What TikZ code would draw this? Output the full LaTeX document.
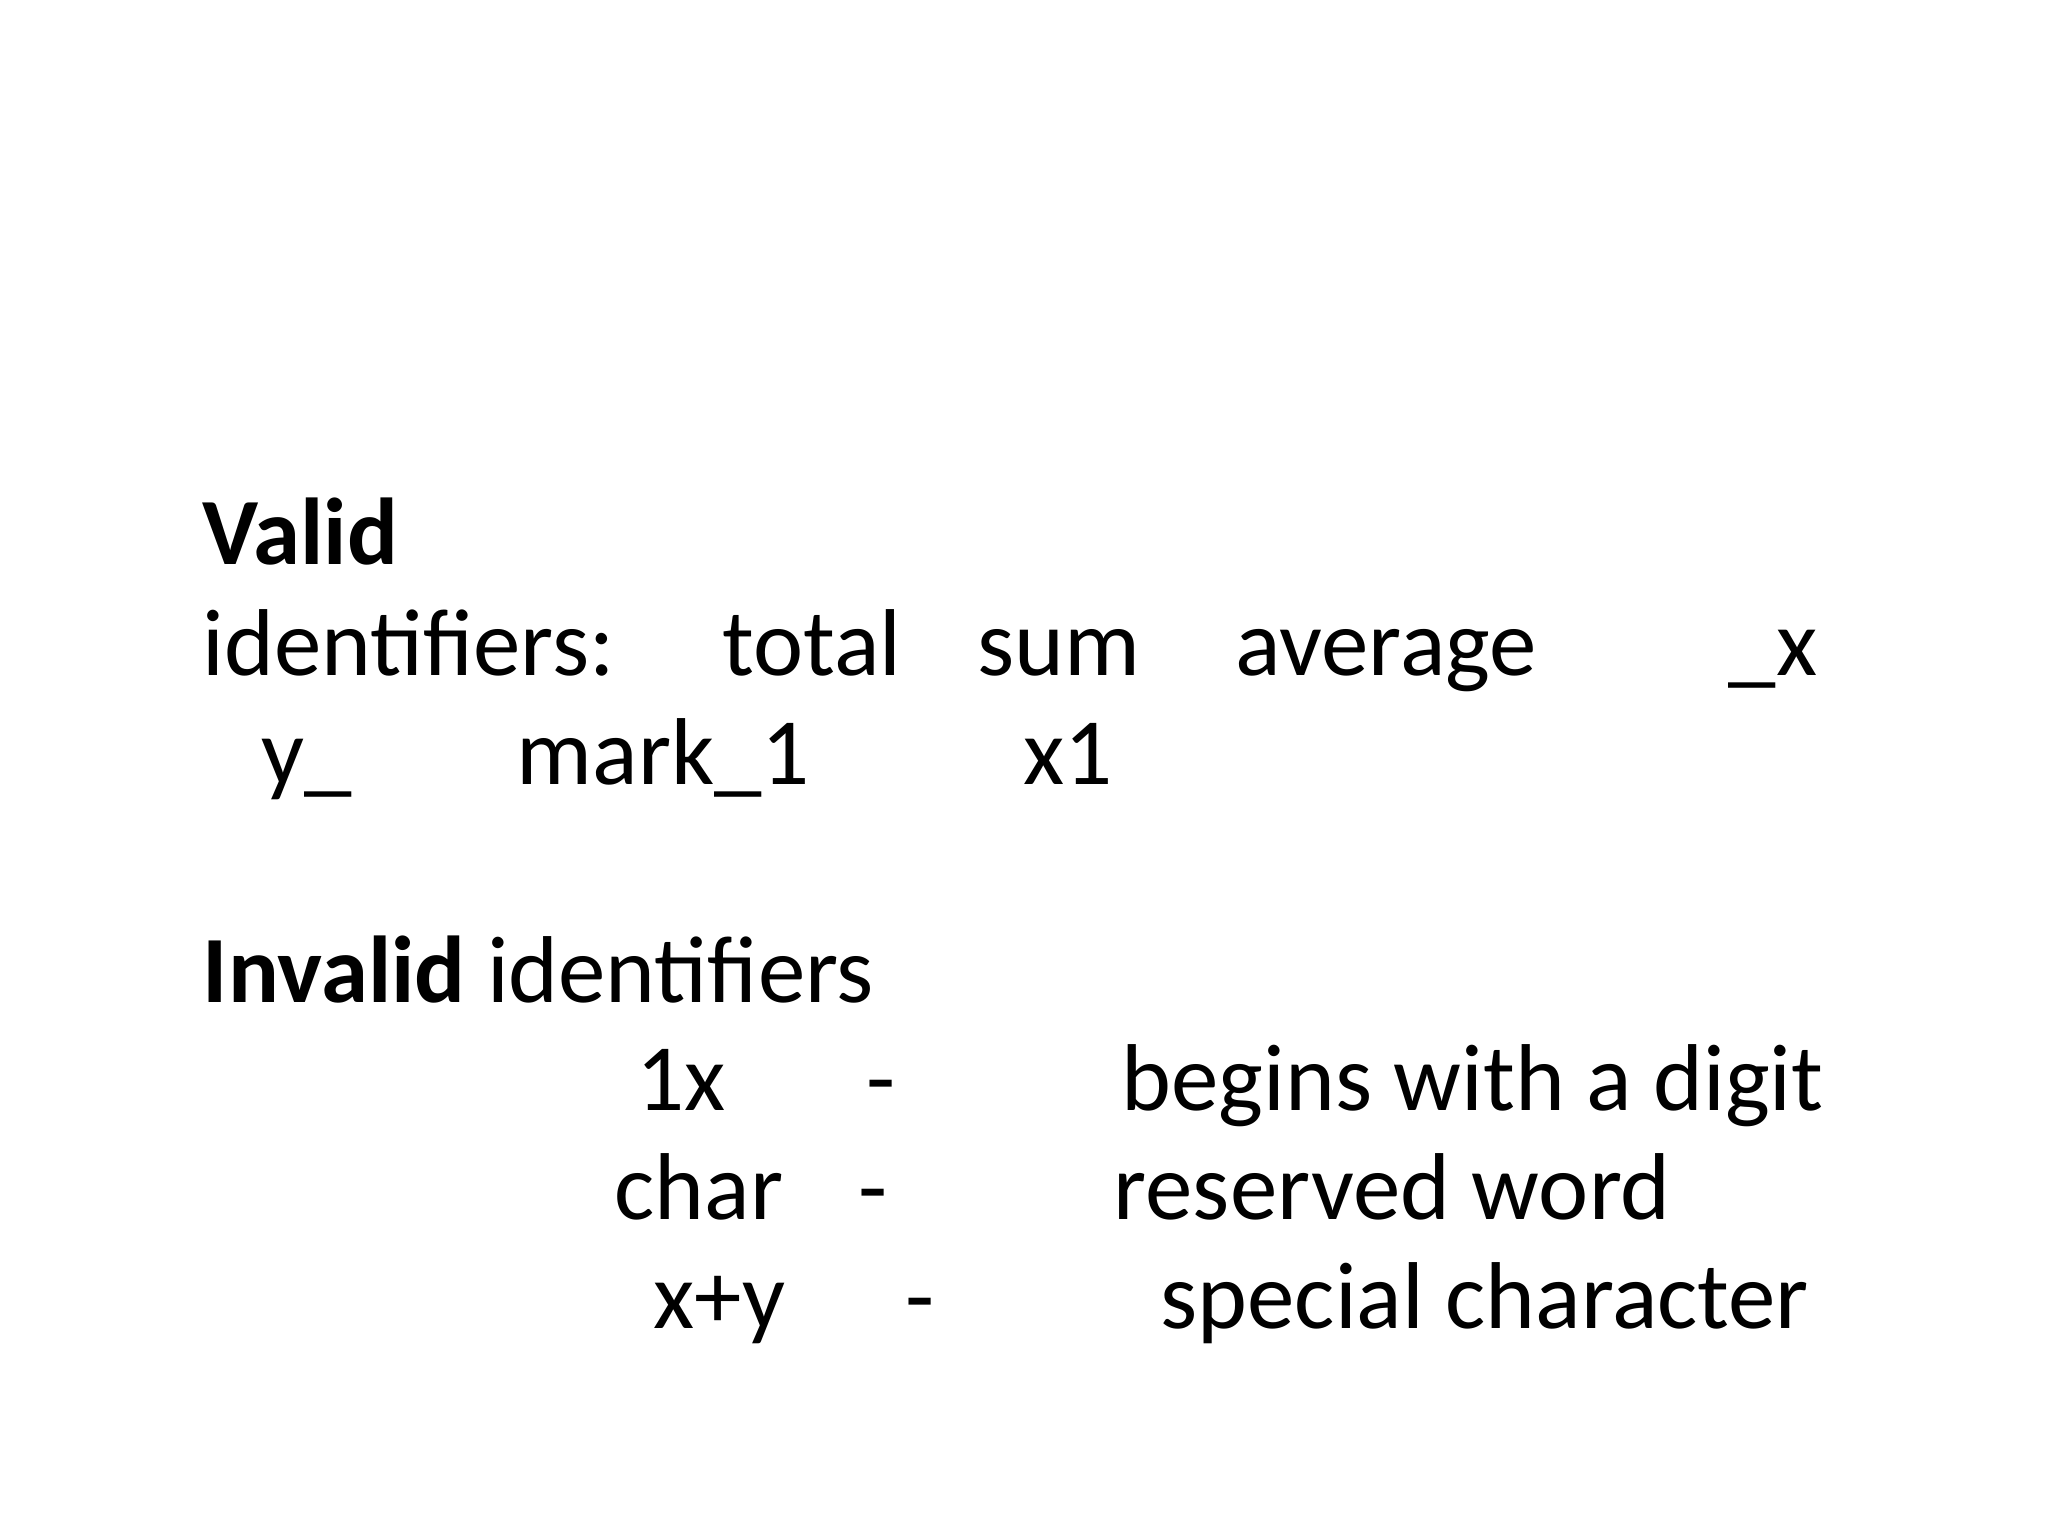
\documentclass[tikz,border=0pt]{standalone}
\usepackage{fontspec}
\setmainfont{Carlito}
\begin{document}
\begin{tikzpicture}[x=0.01cm,y=-0.01cm,
  t/.style={anchor=base west,inner sep=0pt,font=\fontsize{27}{32}\selectfont}]
\useasboundingbox[fill=white] (0,0) rectangle (2048,1536);
\node[t] (valid) at (202,564) {\textbf{Valid}};
\node[t] (ids) at (202,675) {identifiers:};
\node[t] (total) at (722,675) {total};
\node[t] (sum) at (977,675) {sum};
\node[t] (avg) at (1235,675) {average};
\node[t] (ux) at (1728,675) {\_x};
\node[t] (yu) at (261,784) {y\_};
\node[t] (mark) at (516,784) {mark\_1};
\node[t] (xone) at (1023,784) {x1};
\node[t] (invalid) at (202,1002) {\textbf{Invalid} identifiers};
\node[t] (onex) at (636,1110) {1x};
\node[t] (d1) at (866,1110) {-};
\node[t] (r1) at (1121,1110) {begins with a digit};
\node[t] (char) at (614,1219) {char};
\node[t] (d2) at (858,1219) {-};
\node[t] (r2) at (1113,1219) {reserved word};
\node[t] (xy) at (653,1328) {x+y};
\node[t] (d3) at (905,1328) {-};
\node[t] (r3) at (1160,1328) {special character};
\end{tikzpicture}
\end{document}
